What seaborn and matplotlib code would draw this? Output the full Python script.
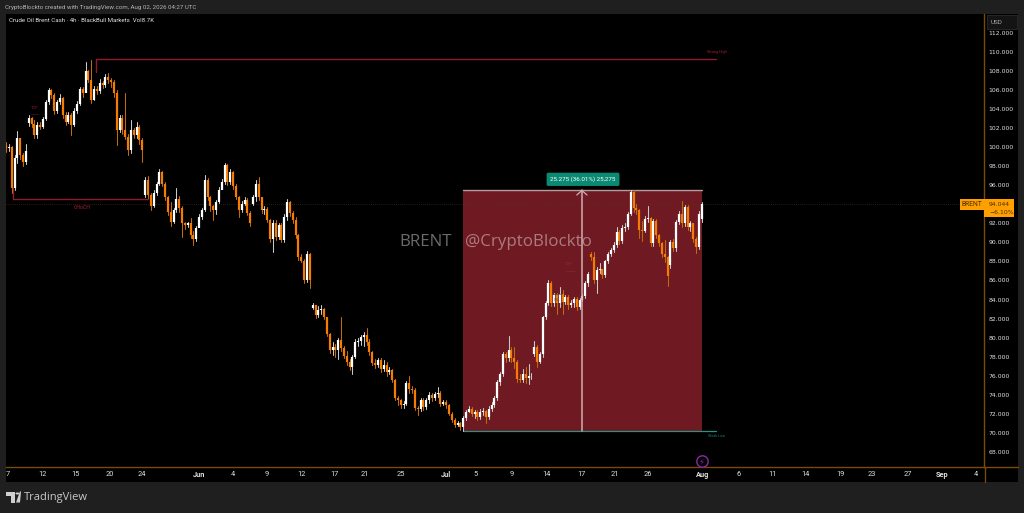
import numpy as np
import pandas as pd
import matplotlib
matplotlib.use("Agg")
import matplotlib.pyplot as plt
from matplotlib.patches import Rectangle, Polygon, Circle
import seaborn as sns

# 4h candles
closes = [
    99.9, 100.0, 95.7, 98.9, 101.0, 99.2, 98.5, 99.6, 103.1, 102.5,
    101.3, 102.4, 102.2, 103.0, 104.8, 106.0, 105.5, 103.8, 104.8, 105.2,
    103.4, 102.7, 103.4, 102.4, 103.8, 104.6, 106.2, 105.7, 108.0, 107.1,
    105.0, 106.2, 105.9, 106.8, 106.6, 107.4, 107.1, 106.9, 105.7, 101.8,
    103.1, 101.8, 101.1, 99.7, 101.8, 101.3, 102.2, 100.8, 99.7, 96.6,
    95.0, 93.8, 95.2, 96.2, 97.4, 96.2, 94.8, 93.2, 92.2, 93.4,
    94.6, 93.6, 92.0, 91.8, 92.0, 90.8, 90.4, 91.5, 92.7, 93.4,
    96.6, 94.8, 93.8, 93.4, 94.3, 95.5, 96.4, 98.2, 96.4, 97.4,
    95.9, 94.8, 93.4, 94.1, 94.5, 93.1, 92.0, 94.8, 96.2, 94.8,
    93.4, 93.5, 92.4, 90.4, 92.0, 90.6, 91.8, 90.3, 92.7, 94.3,
    93.1, 92.4, 90.8, 88.5, 88.1, 86.0, 88.8, 86.0, 83.4, 82.4,
    82.9, 83.0, 82.2, 80.4, 78.7, 79.0, 78.7, 79.7, 78.9, 78.1,
    77.4, 76.9, 78.0, 79.5, 79.6, 80.1, 80.3, 79.5, 78.5, 77.3,
    77.1, 77.6, 76.7, 77.1, 76.4, 76.6, 75.5, 73.6, 73.4, 72.9,
    73.0, 75.2, 74.6, 74.5, 72.6, 72.5, 73.4, 72.7, 73.4, 73.9,
    73.6, 74.1, 74.2, 73.0, 73.2, 72.9, 72.0, 71.3, 70.8, 71.0,
    70.6, 71.5, 72.2, 72.5, 72.0, 72.2, 71.6, 72.2, 72.3, 71.6,
    72.5, 72.9, 73.6, 75.3, 76.2, 78.3, 77.8, 78.7, 77.8, 77.4,
    75.6, 75.5, 76.2, 75.7, 75.9, 76.0, 79.0, 77.4, 78.3, 82.2,
    83.6, 85.7, 83.6, 84.5, 83.6, 84.6, 83.7, 84.3, 83.4, 83.6,
    84.1, 83.2, 83.9, 84.4, 85.7, 86.7, 88.5, 86.0, 87.1, 87.2,
    86.6, 88.0, 88.8, 89.2, 89.7, 91.1, 90.2, 91.5, 91.6, 93.0,
    95.3, 93.6, 93.4, 91.3, 91.2, 92.5, 92.6, 89.9, 92.3, 90.8,
    89.9, 88.8, 88.5, 86.5, 90.1, 89.4, 92.2, 93.0, 92.0, 93.7,
    91.6, 92.0, 90.4, 89.5, 93.0, 94.044,
]
highs = [
    100.6, 100.4, 100.2, 99.2, 101.7, 101.0, 99.4, 100.4, 103.4, 103.2,
    102.9, 102.7, 102.7, 103.2, 105.0, 106.3, 106.2, 105.7, 105.0, 105.6,
    105.3, 103.7, 103.7, 103.6, 104.2, 104.9, 106.4, 106.4, 109.0, 108.2,
    109.2, 106.5, 106.5, 107.2, 107.0, 107.7, 107.8, 107.3, 107.1, 106.0,
    103.4, 103.4, 105.7, 101.4, 102.9, 102.1, 102.7, 102.4, 101.0, 96.9,
    97.0, 95.2, 95.5, 96.4, 97.7, 97.5, 96.4, 94.9, 94.3, 93.6,
    95.7, 94.9, 93.8, 92.2, 92.2, 92.6, 91.2, 91.7, 93.0, 93.6,
    97.1, 96.8, 94.9, 93.9, 94.5, 95.8, 96.7, 98.4, 98.3, 97.7,
    97.5, 96.2, 94.9, 94.4, 94.8, 94.7, 93.3, 95.0, 96.6, 96.9,
    94.8, 93.8, 93.7, 92.5, 92.4, 92.4, 92.1, 92.0, 93.0, 94.6,
    94.4, 93.3, 92.7, 90.9, 88.8, 88.3, 89.1, 88.9, 83.6, 83.2,
    83.3, 83.4, 83.1, 82.2, 80.5, 79.5, 79.3, 80.0, 82.2, 79.1,
    78.6, 77.7, 78.2, 79.8, 80.0, 80.3, 80.6, 81.0, 79.8, 78.6,
    77.7, 77.8, 77.8, 77.6, 77.4, 76.9, 76.7, 75.6, 73.8, 73.5,
    73.3, 75.4, 76.0, 74.9, 74.7, 72.8, 73.6, 73.6, 73.6, 74.3,
    74.2, 74.3, 74.8, 74.4, 73.4, 73.4, 73.0, 72.2, 71.5, 71.2,
    71.1, 71.7, 72.4, 72.8, 72.7, 72.4, 72.4, 72.5, 72.6, 72.4,
    72.8, 73.2, 73.8, 75.5, 76.4, 78.5, 78.5, 80.2, 79.0, 79.0,
    77.6, 76.2, 76.7, 76.9, 77.2, 76.3, 79.6, 79.2, 78.5, 82.3,
    83.8, 86.1, 85.9, 84.7, 84.7, 85.3, 85.0, 84.5, 84.5, 84.0,
    84.3, 84.3, 84.2, 84.6, 85.9, 86.9, 89.0, 89.0, 87.4, 87.8,
    87.2, 88.2, 89.0, 89.4, 90.0, 91.6, 91.3, 91.8, 92.0, 93.2,
    95.5, 95.5, 94.0, 93.5, 92.3, 92.8, 93.8, 92.7, 92.5, 92.5,
    90.9, 90.1, 90.3, 88.6, 90.3, 90.4, 92.4, 93.3, 94.4, 93.9,
    93.9, 92.3, 92.0, 90.6, 93.3, 94.3,
]
lows = [
    99.5, 99.6, 95.2, 95.5, 98.4, 98.8, 98.0, 98.3, 102.3, 102.2,
    101.0, 101.0, 101.9, 102.0, 102.9, 104.6, 105.2, 103.5, 103.6, 104.6,
    103.1, 102.4, 102.6, 101.3, 102.3, 103.6, 104.5, 105.3, 106.8, 106.9,
    104.7, 105.0, 105.6, 105.7, 106.3, 106.4, 106.8, 106.4, 105.3, 100.3,
    101.6, 101.4, 100.9, 99.2, 99.4, 101.0, 101.0, 100.4, 98.5, 94.8,
    94.7, 93.4, 93.7, 95.0, 96.0, 95.9, 94.5, 92.9, 91.7, 92.0,
    93.2, 93.2, 90.6, 91.4, 91.6, 90.5, 89.7, 90.2, 92.3, 92.5,
    93.3, 94.5, 93.3, 92.4, 93.0, 94.2, 95.6, 96.2, 96.1, 96.2,
    95.6, 94.6, 92.7, 93.2, 93.9, 92.9, 91.7, 93.9, 94.4, 94.5,
    93.1, 93.0, 92.2, 90.0, 89.0, 90.3, 90.4, 90.0, 90.0, 92.4,
    92.8, 92.0, 90.5, 88.2, 87.9, 85.7, 85.8, 85.2, 83.0, 82.1,
    82.2, 82.5, 81.9, 80.2, 78.4, 78.2, 77.9, 77.7, 78.6, 77.8,
    77.1, 76.6, 76.2, 77.8, 79.1, 79.2, 79.1, 79.2, 78.2, 77.1,
    76.8, 76.9, 76.4, 76.5, 76.0, 76.2, 75.3, 73.4, 72.9, 72.6,
    72.6, 72.9, 74.2, 74.2, 72.4, 71.8, 72.3, 72.4, 72.5, 73.1,
    73.3, 73.4, 73.7, 72.8, 72.9, 72.6, 71.8, 71.1, 70.6, 70.7,
    70.3, 70.2, 71.3, 72.2, 71.7, 71.5, 71.3, 71.4, 71.8, 71.0,
    71.4, 72.3, 72.7, 73.4, 75.0, 76.0, 77.4, 77.5, 77.4, 76.8,
    75.3, 75.3, 75.3, 75.2, 75.1, 75.6, 78.1, 76.9, 77.3, 78.0,
    82.0, 83.4, 83.3, 83.3, 82.5, 83.2, 82.5, 83.5, 83.0, 83.2,
    83.2, 82.9, 83.0, 83.8, 84.2, 85.4, 88.2, 85.7, 84.7, 86.8,
    86.3, 86.4, 87.8, 88.6, 89.0, 89.5, 89.8, 89.9, 91.2, 91.4,
    92.9, 93.2, 93.0, 90.5, 90.2, 91.1, 92.2, 89.6, 89.6, 90.5,
    89.6, 88.5, 87.9, 85.4, 87.3, 89.1, 89.1, 91.9, 91.6, 91.7,
    91.3, 91.2, 90.1, 88.9, 89.3, 92.2,
]
# opens follow the previous close except at session gaps
gap_opens = {0: 100.3, 8: 102.6, 49: 95.0, 87: 94.1, 108: 83.1, 186: 78.3,
             206: 88.8, 234: 87.6, 245: 92.5}

price_ticks = list(range(68, 114, 2))
date_labels = ['7', '12', '15', '20', '24', 'Jun', '4', '9', '12', '17', '21', '25', 'Jul', '5',
               '9', '14', '17', '21', '26', 'Aug', '6', '11', '14', '19', '23', '27', 'Sep', '4']
date_bars = [0.7, 12.7, 24.6, 36.6, 47.9, 68.0, 79.9, 91.9, 103.9, 115.8, 126.4, 139.1, 154.9, 165.5,
             178.2, 190.5, 202.5, 214.4, 226.1, 245.3, 258.0, 270.0, 281.7, 293.7, 304.9, 317.6, 329.6, 341.5]
month_labels = ['Jun', 'Jul', 'Aug', 'Sep']

range_low = 70.2
range_high = 95.475
strong_high = 109.3
choch_level = 94.6
last_price = 94.044

W, H = 1024, 513
BG = '#1f1f1f'
UP = '#ffffff'
DOWN = '#f57c00'
RED = '#8f1c2b'

sns.set_style('dark')
plt.rcParams['font.family'] = ['Roboto', 'DejaVu Sans']


def fx(px):
    return px / W


def fy(py):
    return 1 - py / H


# Build the candle tables
opens = [gap_opens.get(i, closes[i - 1]) for i in range(len(closes))]
candles = pd.DataFrame({'bar': range(len(closes)), 'open': opens, 'high': highs,
                        'low': lows, 'close': closes})
candles['dir'] = np.where(candles['close'] >= candles['open'], 'up', 'down')
wicks = candles.melt(id_vars=['bar', 'dir'], value_vars=['low', 'high'], value_name='price')
bodies = candles.melt(id_vars=['bar', 'dir'], value_vars=['open', 'close'], value_name='price')

fig = plt.figure(figsize=(W / 100, H / 100), dpi=100, facecolor=BG)
# price scale and date scale panels
fig.patches.append(Rectangle((fx(6), fy(482)), fx(1012), fy(14) - fy(482), transform=fig.transFigure,
                             facecolor='black', edgecolor='none', zorder=-5))
ax = fig.add_axes([fx(6), fy(467), fx(978), fy(14) - fy(467)], facecolor='black')

# Measured range box
ax.fill_between([160.9, 245.1], range_low, range_high, color='#6f1a22', lw=0, zorder=1)
ax.plot([160.9, 245.1], [range_high, range_high], color='#b79a9d', lw=1.0, zorder=2)
ax.plot([160.9, 250.2], [range_low, range_low], color='#2f8f80', lw=0.9, zorder=2)

ax.axhline(last_price, color='#4d3a1c', lw=0.5, ls=(0, (1, 2)), zorder=1)

sns.lineplot(data=wicks, x='bar', y='price', units='bar', hue='dir', estimator=None, sort=False,
             palette={'up': '#c8c8c8', 'down': '#c26c08'}, linewidth=0.75, legend=False, ax=ax, zorder=3)
sns.lineplot(data=bodies, x='bar', y='price', units='bar', hue='dir', estimator=None, sort=False,
             palette={'up': UP, 'down': DOWN}, linewidth=1.6, legend=False, ax=ax, zorder=4,
             solid_capstyle='butt')

# Arrow down the middle of the box
ax.plot([202.8, 202.8], [range_low, range_high], color='#cfaeb0', lw=1.1, zorder=5)
ax.plot([201.0, 202.8, 204.6], [95.0, range_high, 95.0], color='#cfaeb0', lw=0.9, zorder=5)
ax.text(203.2, 96.65, '25.275 (36.01%) 25,275', color='white', fontsize=4.5, ha='center', va='center',
        zorder=6, bbox=dict(boxstyle='round,pad=0.6,rounding_size=0.25', fc='#0b8a73', ec='none'))

# Structure lines
ax.plot([31.7, 31.7, 250.2], [107.9, strong_high, strong_high], color=RED, lw=1.0, zorder=2)
ax.plot([2.3, 2.3, 50.0], [95.7, choch_level, choch_level], color=RED, lw=1.0, zorder=2)
ax.plot([8.9, 11.4], [103.5, 103.5], color='#5c1820', lw=0.4, zorder=2)
ax.plot([192.3, 195.8], [84.6, 84.6], color='#4a5553', lw=0.5, zorder=5)
ax.plot([197.2, 200.4], [87.0, 87.0], color='#8b2a35', lw=0.4, zorder=5)
ax.text(26.8, 93.7, 'CHoCH', color='#a3202f', fontsize=3.8, ha='center', va='center')
ax.text(10.2, 104.2, 'TOP', color='#8a1c28', fontsize=2.8, ha='center', va='center')
ax.text(250.2, 110.0, 'Strong High', color='#a3202f', fontsize=2.7, ha='center', va='center')
ax.text(250.2, 69.6, 'Weak Low', color='#0d7f6d', fontsize=2.7, ha='center', va='center')
ax.text(198.2, 87.75, 'TOP', color='#9c2a36', fontsize=2.8, ha='center', va='center', zorder=5)
ax.text(194.0, 83.9, 'SSL', color='#3c4f4c', fontsize=2.8, ha='center', va='center', zorder=5)

# Watermark
ax.text(138.4, 90.0, 'BRENT', color='white', alpha=0.42, fontsize=12.2, family='Open Sans', ha='left',
        va='center', zorder=6)
ax.text(161.5, 90.0, '@CryptoBlockto', color='white', alpha=0.42, fontsize=12.2, family='Open Sans',
        ha='left', va='center', zorder=6)

# Lightning marker
ax.plot([245.0], [66.95], marker='o', ms=8.2, mfc='black', mec='#8a2aa5', mew=1.0, zorder=6, clip_on=False)
ax.text(245.0, 66.93, '\u26a1', color='#8a2aa5', fontsize=6, ha='center', va='center', zorder=7,
        family='DejaVu Sans')

ax.set_xlim(0, 344.4)
ax.set_ylim(66.37, 114.05)
ax.set(xlabel=None, ylabel=None)
ax.grid(False)
for side in ['top', 'left']:
    ax.spines[side].set_visible(False)
for side in ['right', 'bottom']:
    ax.spines[side].set_color('#7a4a08')
    ax.spines[side].set_linewidth(1.0)

ax.yaxis.tick_right()
ax.set_yticks(price_ticks)
ax.set_yticklabels([f'{p}.000' for p in price_ticks], family='DejaVu Sans')
ax.tick_params(axis='y', length=0, pad=3.2, labelsize=4.4, labelcolor='#e0e0e0')
ax.set_xticks(date_bars)
ax.set_xticklabels(date_labels)
ax.tick_params(axis='x', length=0, pad=3.0, labelsize=5.3, labelcolor='#e0e0e0')
for lab in ax.get_xticklabels():
    if lab.get_text() in month_labels:
        lab.set_fontweight('bold')

# Extensions of the axis lines
fig.add_artist(plt.Line2D([fx(984.5), fx(984.5)], [fy(482), fy(467)], color='#7a4a08', lw=1.0))
fig.add_artist(plt.Line2D([fx(984.5), fx(1018)], [fy(467.3), fy(467.3)], color='#7a4a08', lw=1.0))

# Header
fig.text(fx(5), fy(7.5), 'CryptoBlockto created with TradingView.com, Aug 02, 2026 04:27 UTC',
         color='#b5b5b5', fontsize=4.45, va='center')
fig.text(fx(9), fy(20.5), 'Crude Oil Brent Cash \u00b7 4h \u00b7 BlackBull Markets  Vol8.7K',
         color='#e2e2e2', fontsize=4.45, va='center')

# USD button
fig.add_artist(Rectangle((fx(987), fy(28.5)), fx(30), fy(15.5) - fy(28.5), transform=fig.transFigure,
                         facecolor='#141414', edgecolor='#2b2b2b', lw=0.6))
fig.text(fx(991), fy(22), 'USD', color='#aaaaaa', fontsize=4.6, va='center')

# Last price tag
fig.add_artist(Rectangle((fx(959.5), fy(209.5)), fx(25), fy(199) - fy(209.5), transform=fig.transFigure,
                         facecolor='#ffa000', edgecolor='none'))
fig.add_artist(Rectangle((fx(984), fy(217)), fx(29.5), fy(199) - fy(217), transform=fig.transFigure,
                         facecolor='#ffa000', edgecolor='none'))
fig.text(fx(961), fy(204.5), 'BRENT', color='#4a3000', fontsize=4.9, va='center')
fig.text(fx(989), fy(204.5), '94.044', color='#4a3000', fontsize=4.4, va='center', family='DejaVu Sans')
fig.text(fx(989), fy(212.5), '\u22126.10%', color='#4a3000', fontsize=4.4, va='center', family='DejaVu Sans')

# TradingView logo and name
logo_color = '#cfcfcf'
fig.add_artist(Polygon([(fx(6), fy(491.5)), (fx(15), fy(491.5)), (fx(15), fy(502.5)), (fx(11), fy(502.5)),
                        (fx(11), fy(495.5)), (fx(6), fy(495.5))], transform=fig.transFigure,
                       facecolor=logo_color, edgecolor='none'))
fig.add_artist(Circle((fx(17.5), fy(493.5)), 0.002, transform=fig.transFigure, facecolor=logo_color,
                      edgecolor='none'))
fig.add_artist(Polygon([(fx(16), fy(502.5)), (fx(20), fy(491.5)), (fx(21), fy(491.5)), (fx(20), fy(502.5))],
                       transform=fig.transFigure, facecolor=logo_color, edgecolor='none'))
fig.text(fx(24), fy(497.5), 'TradingView', color='#c9c9c9', fontsize=8.0, va='center', family='Open Sans')

fig.savefig('out.png', dpi=100, facecolor=fig.get_facecolor())
